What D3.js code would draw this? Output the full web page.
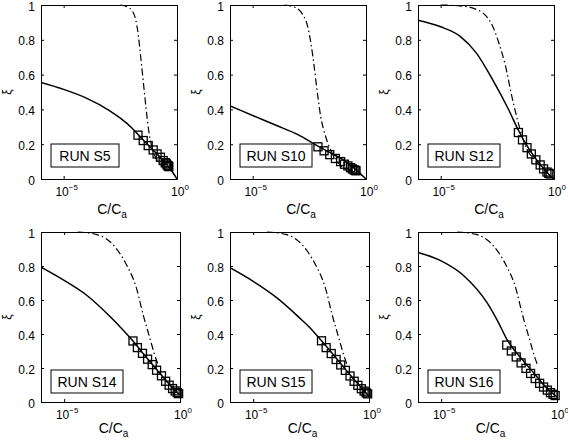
<!DOCTYPE html>
<html><head><meta charset="utf-8">
<script src="https://cdn.jsdelivr.net/npm/d3@7"></script>
<style>body{margin:0;background:#fff}svg{display:block}text{font-family:"Liberation Sans",Arial,sans-serif;fill:#000}</style>
</head><body><svg id="c" width="568" height="442"></svg>
<script>
// ---- data (x values given as log10(C/Ca)) ----
const runLabels = ["RUN S5","RUN S10","RUN S12","RUN S14","RUN S15","RUN S16"];
const xTicks = [1e-5, 1];
const yTicks = [0,0.2,0.4,0.6,0.8,1];

const s5Solid  = [[-6,0.555],[-5,0.515],[-4,0.465],[-3,0.395],[-2.5,0.35],[-2,0.295],[-1.5,0.225],[-1,0.16],[-0.5,0.09],[-0.2,0.04],[0,0]];
const s5Dash   = [[-2.5,1],[-2.2,0.99],[-1.97,0.965],[-1.83,0.92],[-1.72,0.84],[-1.6,0.70],[-1.48,0.55],[-1.36,0.40],[-1.25,0.28],[-1.12,0.19],[-0.95,0.125],[-0.75,0.085],[-0.5,0.055],[-0.35,0.045]];
const s5Sq     = [[-1.72,0.252],[-1.49,0.221],[-1.27,0.192],[-1.05,0.167],[-0.88,0.144],[-0.73,0.125],[-0.61,0.106],[-0.52,0.094],[-0.47,0.087],[-0.42,0.079],[-0.39,0.075],[-0.36,0.071]];

const s10Solid = [[-6,0.42],[-5,0.365],[-4,0.31],[-3,0.255],[-2.14,0.19],[-1.5,0.145],[-1,0.11],[-0.5,0.06],[0,0]];
const s10Dash  = [[-3.6,1],[-3.1,0.985],[-2.8,0.946],[-2.58,0.88],[-2.43,0.78],[-2.29,0.65],[-2.14,0.49],[-2.0,0.36],[-1.78,0.244],[-1.49,0.148],[-1.2,0.09],[-0.9,0.06],[-0.6,0.043]];
const s10Sq    = [[-2.12,0.185],[-1.85,0.162],[-1.6,0.14],[-1.35,0.118],[-1.12,0.1],[-0.95,0.085],[-0.8,0.075],[-0.68,0.065],[-0.6,0.058],[-0.53,0.053],[-0.48,0.05],[-0.44,0.047]];

const s12Solid = [[-6,0.913],[-5,0.875],[-4.14,0.82],[-3.43,0.725],[-2.71,0.571],[-2.0,0.398],[-1.57,0.28],[-1.14,0.18],[-0.71,0.1],[-0.29,0.035],[0,0]];
const s12Dash  = [[-5,1],[-4.14,0.995],[-3.43,0.975],[-3.0,0.937],[-2.71,0.88],[-2.43,0.78],[-2.14,0.65],[-1.86,0.475],[-1.57,0.32],[-1.36,0.225],[-1.14,0.158],[-0.86,0.11],[-0.5,0.06]];
const s12Sq    = [[-1.57,0.267],[-1.39,0.225],[-1.19,0.18],[-1.0,0.144],[-0.8,0.11],[-0.61,0.081],[-0.46,0.058],[-0.31,0.04],[-0.23,0.033],[-0.17,0.029]];

const s14Solid = [[-6,0.793],[-5,0.715],[-4,0.625],[-3,0.5],[-2.5,0.43],[-2.03,0.359],[-1.5,0.27],[-1,0.19],[-0.5,0.11],[0,0.04]];
const s14Dash  = [[-4.41,1],[-3.62,0.986],[-2.9,0.927],[-2.32,0.81],[-1.88,0.67],[-1.59,0.513],[-1.3,0.375],[-1.09,0.276],[-0.94,0.217]];
const s14Sq    = [[-2.03,0.359],[-1.84,0.32],[-1.62,0.286],[-1.4,0.252],[-1.2,0.22],[-1.01,0.187],[-0.8,0.154],[-0.62,0.122],[-0.47,0.099],[-0.32,0.079],[-0.21,0.065],[-0.12,0.055],[-0.06,0.049]];

const s15Solid = [[-6,0.79],[-5,0.71],[-4,0.615],[-3,0.495],[-2.5,0.43],[-2.05,0.36],[-1.5,0.272],[-1,0.19],[-0.5,0.11],[0,0.035]];
const s15Dash  = [[-4.4,1],[-3.6,0.986],[-2.9,0.927],[-2.32,0.81],[-1.88,0.67],[-1.59,0.513],[-1.3,0.375],[-1.09,0.276],[-0.94,0.217]];
const s15Sq    = [[-2.05,0.36],[-1.85,0.32],[-1.63,0.285],[-1.42,0.25],[-1.22,0.218],[-1.02,0.186],[-0.82,0.153],[-0.64,0.122],[-0.48,0.098],[-0.33,0.078],[-0.21,0.064],[-0.12,0.054],[-0.06,0.048]];

const s16Solid = [[-6,0.88],[-5,0.83],[-4,0.74],[-3,0.58],[-2.5,0.46],[-2.17,0.37],[-1.5,0.25],[-1,0.17],[-0.5,0.09],[0,0.03]];
const s16Dash  = [[-4.3,1],[-3.5,0.986],[-2.8,0.927],[-2.22,0.81],[-1.78,0.67],[-1.49,0.513],[-1.2,0.375],[-0.99,0.276],[-0.84,0.217]];
const s16Sq    = [[-2.17,0.335],[-1.97,0.3],[-1.76,0.265],[-1.55,0.23],[-1.34,0.198],[-1.14,0.168],[-0.94,0.138],[-0.75,0.11],[-0.58,0.088],[-0.42,0.07],[-0.28,0.055],[-0.17,0.045],[-0.08,0.038]];

const solids  = [s5Solid,s10Solid,s12Solid,s14Solid,s15Solid,s16Solid];
const dashes  = [s5Dash,s10Dash,s12Dash,s14Dash,s15Dash,s16Dash];
const squares = [s5Sq,s10Sq,s12Sq,s14Sq,s15Sq,s16Sq];

// ---- layout ----
const colLeft = [41,230,418];
const rowTop = [5,232], rowBottom = [179,402];
const rowWidth = [136,139];
const boxOffset = [35,32];
const xLabelOffset = [35,31];

const svg = d3.select("#c");
for (let i=0;i<6;i++){
  const r = Math.floor(i/3), c = i%3;
  const L = colLeft[c], T = rowTop[r], B = rowBottom[r], W = rowWidth[r];
  const x = d3.scaleLog().domain([1e-6,1]).range([L,L+W]);
  const y = d3.scaleLinear().domain([0,1]).range([B,T]);
  const g = svg.append("g");
  const clipId = "clip"+i;
  g.append("clipPath").attr("id",clipId).append("rect").attr("x",L).attr("y",T-1).attr("width",W).attr("height",B-T+1);

  const line = d3.line().x(d=>x(Math.pow(10,d[0]))).y(d=>y(d[1])).curve(d3.curveMonotoneX);
  const pg = g.append("g").attr("clip-path",`url(#${clipId})`);
  pg.append("path").attr("d",line(solids[i])).attr("fill","none").attr("stroke","#000").attr("stroke-width",1.5);
  pg.append("path").attr("d",line(dashes[i])).attr("fill","none").attr("stroke","#000").attr("stroke-width",1.2).attr("stroke-dasharray","7,3,1.5,3");
  g.selectAll("rect.sq").data(squares[i]).enter().append("rect").attr("class","sq")
    .attr("x",d=>x(Math.pow(10,d[0]))-4).attr("y",d=>y(d[1])-4).attr("width",8).attr("height",8)
    .attr("fill","none").attr("stroke","#000").attr("stroke-width",1.3);

  // axes
  const ax = g.append("g").attr("transform",`translate(0,${B})`).call(d3.axisBottom(x).tickValues(xTicks).tickSize(-3).tickFormat(""));
  const axT = g.append("g").attr("transform",`translate(0,${T})`).call(d3.axisTop(x).tickValues(xTicks).tickSize(-3).tickFormat(""));
  const ay = g.append("g").attr("transform",`translate(${L},0)`).call(d3.axisLeft(y).tickValues(yTicks).tickSize(-3).tickPadding(6).tickFormat(d3.format("~g")));
  const ayR = g.append("g").attr("transform",`translate(${L+W},0)`).call(d3.axisRight(y).tickValues(yTicks).tickSize(-3).tickFormat(""));
  [ax,axT,ay,ayR].forEach(a=>{a.selectAll("path.domain").attr("stroke","#000").attr("stroke-width",1);a.selectAll("line").attr("stroke","#000");});
  ay.selectAll("text").attr("font-size",12).attr("dy","0.42em").style("font-family","Liberation Sans, Arial");
  // x tick labels 10^n
  xTicks.forEach(t=>{
    const tx = g.append("text").attr("x",x(t)+3).attr("y",B+17).attr("text-anchor","middle").attr("font-size",12);
    tx.append("tspan").text("10");
    tx.append("tspan").attr("dy",-6).attr("font-size",8).text(String(Math.round(Math.log10(t))).replace("-","\u2212"));
  });
  // x label
  const xl = g.append("text").attr("x",L+W/2+3).attr("y",B+xLabelOffset[r]).attr("text-anchor","middle").attr("font-size",14);
  xl.append("tspan").text("C/C");
  xl.append("tspan").attr("dy",4).attr("font-size",10).text("a");
  // y label
  g.append("text").attr("transform",`translate(${L-30},${(T+B)/2}) rotate(-90)`).attr("text-anchor","middle").attr("font-size",12).text("ξ");
  // run label box
  const bw = runLabels[i].length>6 ? 72 : 68;
  const bx = L+10, by = B-boxOffset[r];
  g.append("rect").attr("x",bx).attr("y",by).attr("width",bw).attr("height",23).attr("fill","#fff").attr("stroke","#000").attr("stroke-width",1);
  g.append("text").attr("x",bx+bw/2).attr("y",by+17).attr("text-anchor","middle").attr("font-size",14).text(runLabels[i]);
}
</script></body></html>
